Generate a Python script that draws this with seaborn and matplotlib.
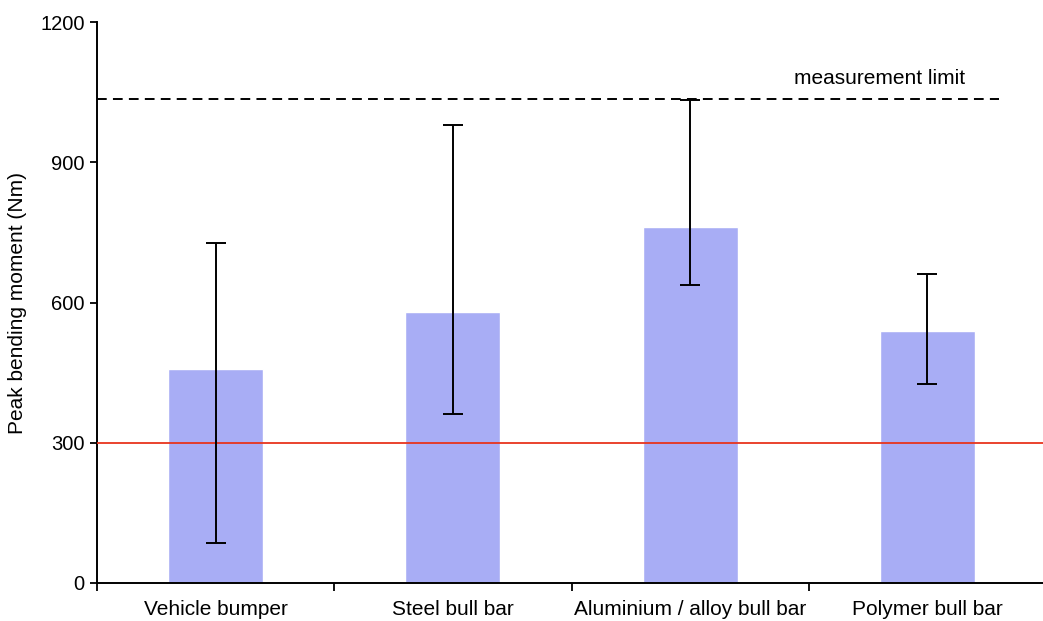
import matplotlib
matplotlib.use("Agg")
import matplotlib.pyplot as plt
import seaborn as sns
import numpy as np
import pandas as pd

categories = ["Vehicle bumper", "Steel bull bar", "Aluminium / alloy bull bar", "Polymer bull bar"]
means = [458, 580, 761, 539]
err_high = [727, 980, 1033, 661]
err_low = [86, 361, 637, 426]
threshold = 300
measurement_limit = 1035
y_ticks = [0, 300, 600, 900, 1200]

sns.set_theme(style="white")
plt.rcParams['font.family'] = ['Liberation Sans', 'DejaVu Sans']
plt.rcParams['text.color'] = 'black'
plt.rcParams['axes.labelcolor'] = 'black'
plt.rcParams['xtick.color'] = 'black'
plt.rcParams['ytick.color'] = 'black'

fig = plt.figure(figsize=(10.43, 6.21), dpi=100)
ax = fig.add_axes([97/1043, 38/621, 949/1043, 561/621])

df = pd.DataFrame({"category": categories, "value": means})
sns.barplot(data=df, x="category", y="value", color="#a8adf5", saturation=1,
            width=0.4, errorbar=None, ax=ax, zorder=2)

x = np.arange(len(categories))
lower = np.array(means) - np.array(err_low)
upper = np.array(err_high) - np.array(means)
ax.errorbar(x, means, yerr=[lower, upper], fmt="none", ecolor="black",
            elinewidth=1.4, capsize=7, capthick=1.4, zorder=4)

ax.axhline(threshold, color="#e8341c", lw=1.3, zorder=3)
ax.plot([-0.5, 3.3], [measurement_limit, measurement_limit], color="black",
        lw=1.4, ls=(0, (5, 3.2)), zorder=3)
ax.text(2.80, measurement_limit + 23, "measurement limit", fontsize=15,
        ha="center", va="bottom", color="black")

ax.set_xlim(-0.5, 3.5)
ax.set_ylim(0, 1200)
ax.set_yticks(y_ticks)
ax.set_yticklabels([str(t) for t in y_ticks], fontsize=14.5)
ax.set_xticks(x)
ax.set_xticklabels(categories, fontsize=15)
ax.set_xlabel("")
ax.set_ylabel("Peak bending moment (Nm)", fontsize=15, labelpad=9)

for s in ["top", "right"]:
    ax.spines[s].set_visible(False)
for s in ["left", "bottom"]:
    ax.spines[s].set_color("black")
    ax.spines[s].set_linewidth(1.4)

ax.tick_params(axis="y", which="major", direction="out", length=5, width=1.3,
               color="black", left=True, pad=4)
ax.tick_params(axis="x", which="major", length=0, pad=12)
ax.set_xticks([-0.5, 0.5, 1.5, 2.5, 3.5], minor=True)
ax.tick_params(axis="x", which="minor", direction="out", length=6, width=1.3,
               color="black", bottom=True)

fig.savefig("out.png", dpi=100)
